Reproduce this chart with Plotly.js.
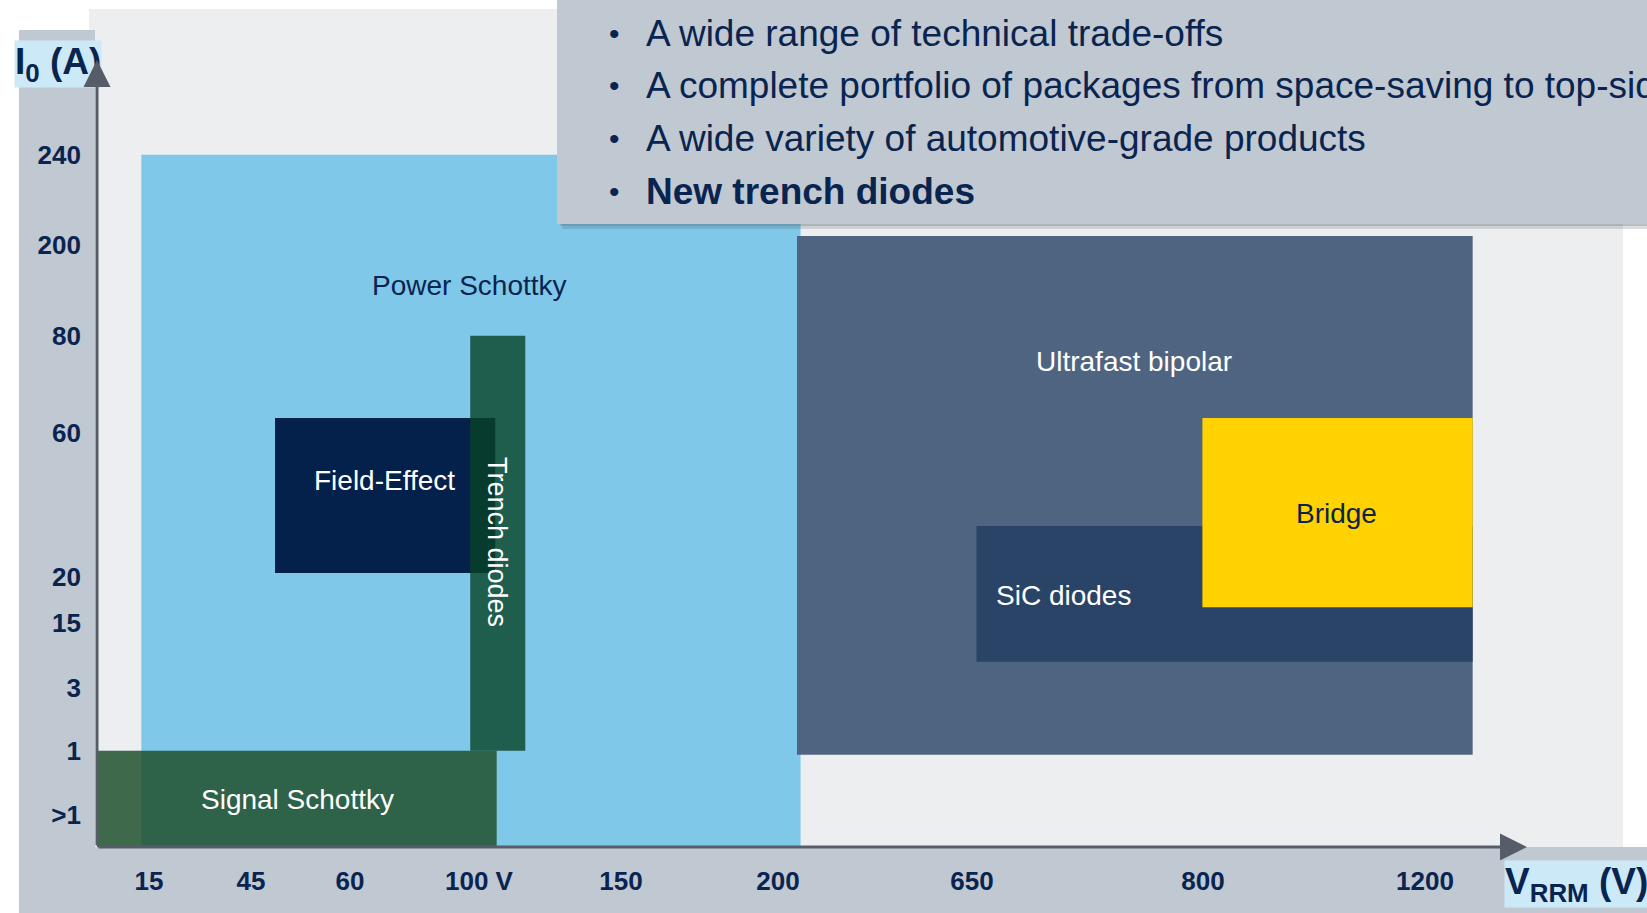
<!DOCTYPE html>
<html>
<head>
<meta charset="utf-8">
<script src="https://cdn.plot.ly/plotly-3.0.1.min.js"></script>
<style>
  html, body { margin: 0; padding: 0; background: #ffffff; }
  #plot { width: 1647px; height: 913px; }
</style>
</head>
<body>
<div id="plot"></div>
<script>
// Sumbu: posisi skematik (0..100) untuk tegangan dan arus
const xTickText = ['15', '45', '60', '100 V', '150', '200', '650', '800', '1200'];
const xTickAt = [3.64, 10.77, 17.69, 26.71, 36.64, 47.62, 61.19, 77.34, 92.87];
const yTickText = ['>1', '1', '3', '15', '20', '60', '80', '200', '240'];
const yTickAt = [3.8, 11.5, 19.0, 26.7, 32.2, 49.4, 61.0, 71.8, 82.6];

// Keluarga dioda: rentang V_RRM (vFrom..vTo) dan I0 (iFrom..iTo)
const families = ['Power Schottky', 'Ultrafast bipolar', 'SiC diodes', 'Bridge', 'Signal Schottky', 'Field-Effect', 'Trench diodes'];
const vFrom = [3.1, 48.95, 61.5, 77.3, 0, 12.45, 26.1];
const vTo = [49.2, 96.2, 96.2, 96.2, 27.95, 27.85, 29.95];
const iFrom = [0, 11.0, 22.1, 28.6, 0, 32.7, 11.5];
const iTo = [82.6, 72.9, 38.3, 51.2, 11.5, 51.2, 61.0];

const bulletLines = [
    'A wide range of technical trade-offs',
    'A complete portfolio of packages from space-saving to top-side cooling',
    'A wide variety of automotive-grade products',
    '<b>New trench diodes</b>'
];

// Gaya
const fillColors = ['#7fc8e9', '#4f6480', '#2a4468', '#ffd200', 'rgba(32,81,45,0.85)', '#03214a', 'rgba(7,66,37,0.8)'];
const labelColors = ['#0a2450', '#ffffff', '#ffffff', '#0a2450', '#ffffff', '#ffffff', '#ffffff'];
const labelPos = [[26.08, 67.06, 'center', 0], [72.52, 57.88, 'center', 0], [62.75, 30.07, 'left', 0],
                  [86.71, 39.74, 'center', 0], [13.99, 5.61, 'center', 0], [20.07, 43.79, 'center', 0],
                  [27.97, 36.4, 'center', 90]];

const navy = '#0a2450';
const axisGrey = '#565d69';
const FONT = 'Liberation Sans, Arial, sans-serif';

// Area plot dalam piksel
const L = 97, R = 1527, T = 9, B = 847;
const px = v => (v - L) / (R - L);       // piksel -> paper x
const py = v => (B - v) / (B - T);       // piksel -> paper y

const traces = families.map((name, i) => ({
    type: 'scatter',
    mode: 'lines',
    name: name,
    x: [vFrom[i], vTo[i], vTo[i], vFrom[i], vFrom[i]],
    y: [iFrom[i], iFrom[i], iTo[i], iTo[i], iFrom[i]],
    fill: 'toself',
    fillcolor: fillColors[i],
    line: { width: 0 },
    hoverinfo: 'name',
    showlegend: false
}));

const annotations = families.map((name, i) => ({
    x: labelPos[i][0], y: labelPos[i][1], xref: 'x', yref: 'y',
    text: name, showarrow: false,
    xanchor: labelPos[i][2], yanchor: 'middle',
    textangle: labelPos[i][3],
    font: { family: FONT, size: i === 6 ? 27 : 28, color: labelColors[i] }
}));

// Judul sumbu dengan kotak sorot (digambar sebelum panah supaya panah di atas)
annotations.push({
    x: px(14), y: py(64), xref: 'paper', yref: 'paper', xanchor: 'left', yanchor: 'middle',
    text: '<b>I<sub>0</sub> (A)</b>', showarrow: false, bgcolor: '#cce9f8', borderpad: 0,
    font: { family: FONT, size: 37, color: navy }
});
annotations.push({
    x: px(1504), y: py(884), xref: 'paper', yref: 'paper', xanchor: 'left', yanchor: 'middle',
    text: '<b>V<sub>RRM</sub> (V)</b>', showarrow: false, bgcolor: '#cce9f8', borderpad: 0,
    font: { family: FONT, size: 37, color: navy }
});

// Panah sumbu
annotations.push({
    x: 0, y: py(60) * 100, xref: 'x', yref: 'y', ax: 0, ay: 787,
    text: '', showarrow: true, arrowhead: 2, arrowsize: 1.8, arrowwidth: 3, arrowcolor: axisGrey
});
annotations.push({
    x: 100, y: 0, xref: 'x', yref: 'y', ax: -1430, ay: 0,
    text: '', showarrow: true, arrowhead: 2, arrowsize: 1.8, arrowwidth: 3, arrowcolor: axisGrey
});

// Daftar poin di kotak kanan atas
bulletLines.forEach((line, k) => {
    const yc = 33 + k * 52.7;
    annotations.push({
        x: px(614), y: py(yc), xref: 'paper', yref: 'paper', xanchor: 'center', yanchor: 'middle',
        text: '•', showarrow: false, font: { family: FONT, size: 30, color: navy }
    });
    annotations.push({
        x: px(644), y: py(yc), xref: 'paper', yref: 'paper', xanchor: 'left', yanchor: 'middle',
        text: line, showarrow: false, font: { family: FONT, size: 37, color: navy }
    });
});

const shapes = [
    // latar area grafik
    { type: 'rect', xref: 'paper', yref: 'paper', x0: px(89), x1: px(1623), y0: py(847), y1: py(9),
      fillcolor: '#eceef0', line: { width: 0 }, layer: 'below' },
    // pita abu-abu kiri dan bawah
    { type: 'rect', xref: 'paper', yref: 'paper', x0: px(19), x1: px(95), y0: py(913), y1: py(30),
      fillcolor: '#c0c8d2', line: { width: 0 }, layer: 'below' },
    { type: 'rect', xref: 'paper', yref: 'paper', x0: px(19), x1: px(1647), y0: py(913), y1: py(847),
      fillcolor: '#c0c8d2', line: { width: 0 }, layer: 'below' },
    // bayangan + kotak teks
    { type: 'rect', xref: 'paper', yref: 'paper', x0: px(562), x1: px(1660), y0: py(229), y1: py(-10),
      fillcolor: 'rgba(60,70,80,0.18)', line: { width: 0 }, layer: 'above' },
    { type: 'rect', xref: 'paper', yref: 'paper', x0: px(560), x1: px(1660), y0: py(226), y1: py(-10),
      fillcolor: 'rgba(60,70,80,0.2)', line: { width: 0 }, layer: 'above' },
    { type: 'rect', xref: 'paper', yref: 'paper', x0: px(557), x1: px(1660), y0: py(224), y1: py(-10),
      fillcolor: '#c0c8d2', line: { width: 0 }, layer: 'above' }
];

const layout = {
    width: 1647,
    height: 913,
    margin: { l: L, r: 1647 - R, t: T, b: 913 - B, pad: 0 },
    paper_bgcolor: '#ffffff',
    plot_bgcolor: 'rgba(0,0,0,0)',
    showlegend: false,
    xaxis: {
        range: [0, 100], showgrid: false, zeroline: false, showline: false,
        tickmode: 'array', tickvals: xTickAt, ticktext: xTickText,
        ticks: '', ticklabelstandoff: 16,
        tickfont: { family: FONT, size: 26, color: navy, weight: 'bold' },
        fixedrange: true
    },
    yaxis: {
        range: [0, 100], showgrid: false, zeroline: false, showline: false,
        tickmode: 'array', tickvals: yTickAt, ticktext: yTickText,
        ticks: '', ticklabelstandoff: 15,
        tickfont: { family: FONT, size: 26, color: navy, weight: 'bold' },
        fixedrange: true
    },
    shapes: shapes,
    annotations: annotations
};

Plotly.newPlot('plot', traces, layout, { displayModeBar: false, staticPlot: true });
</script>
</body>
</html>
